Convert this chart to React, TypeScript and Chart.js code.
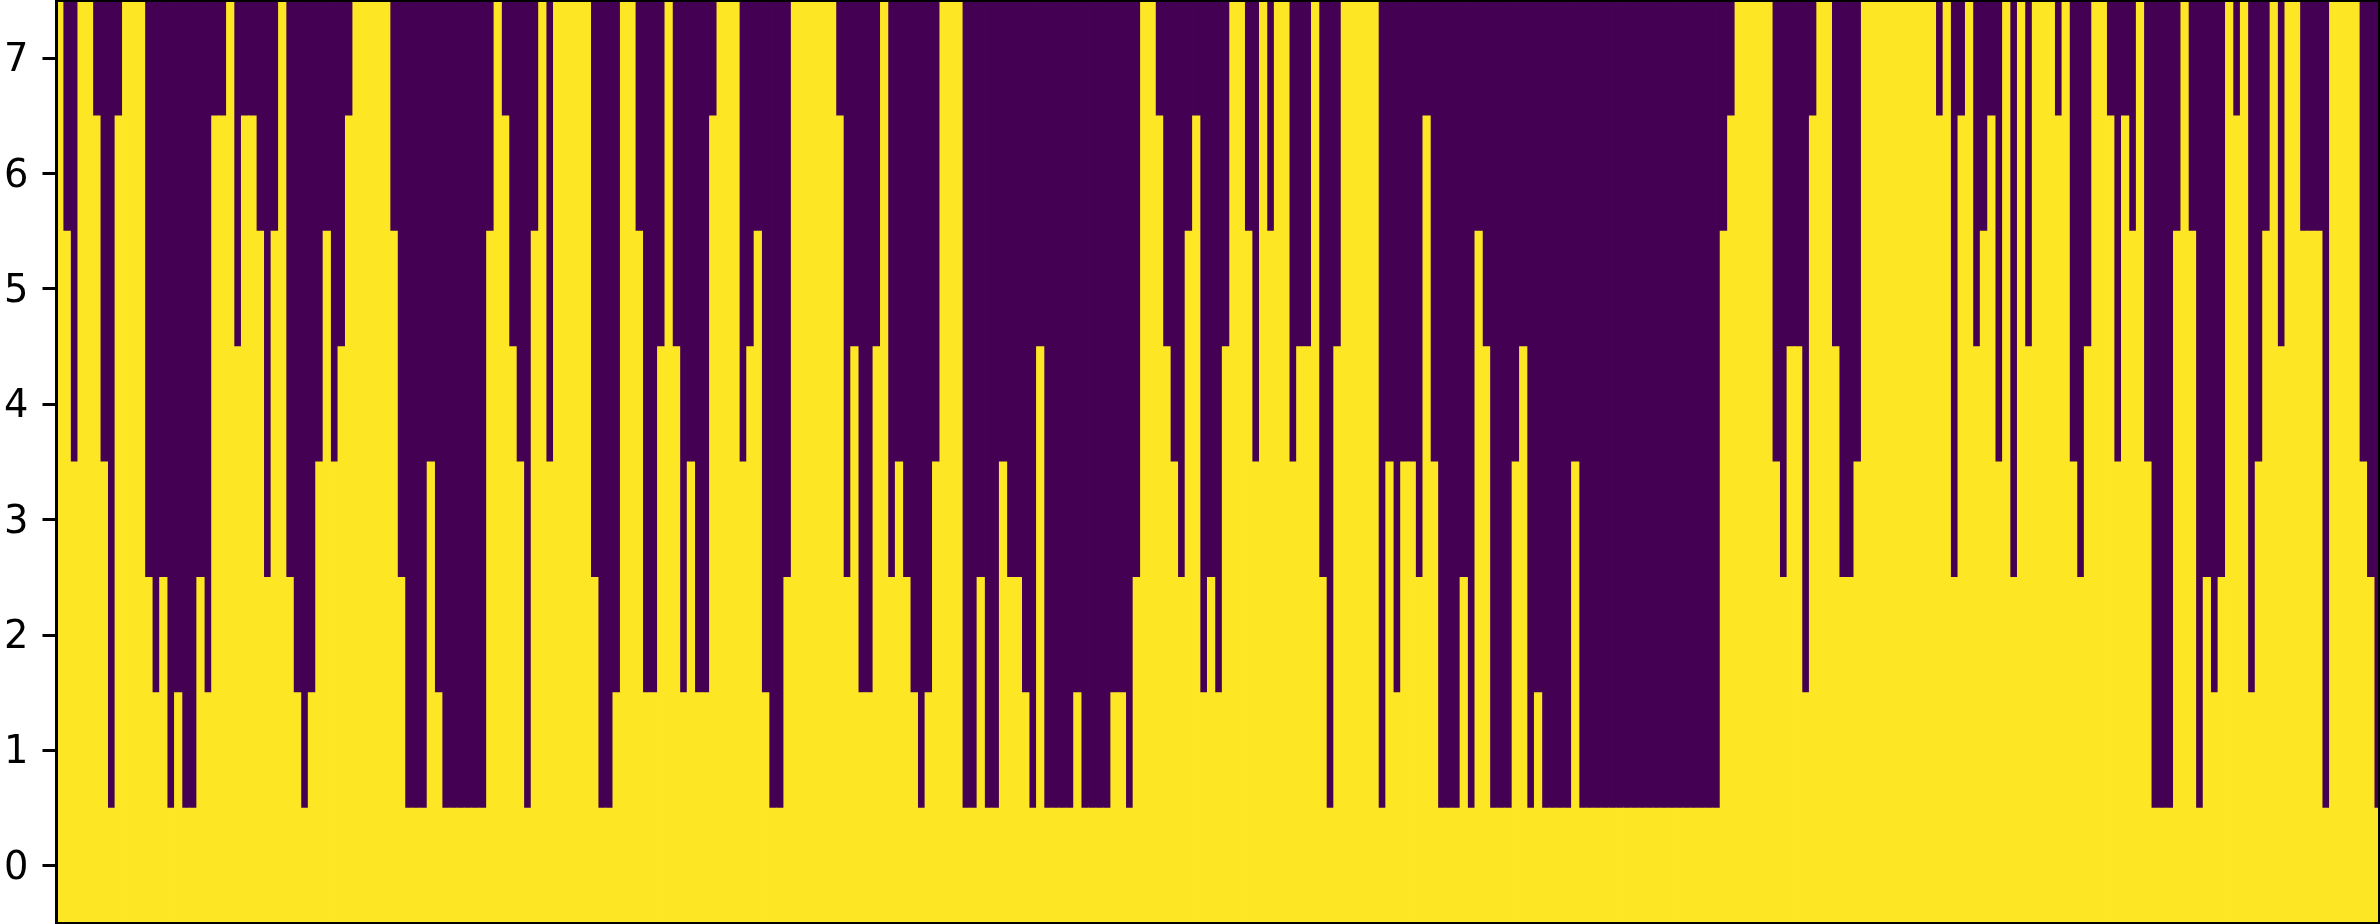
import { useEffect, useRef } from "react";
import { Chart, registerables } from "chart.js";

Chart.register(...registerables);

const rowTicks = [0, 1, 2, 3, 4, 5, 6, 7];

// how many rows are yellow in each column, counted from row 0 upwards
const yellowRows = [
  8, 6, 4, 8, 8, 7, 4, 1, 7, 8,
  8, 8, 3, 2, 3, 1, 2, 1, 1, 3,
  2, 7, 7, 8, 5, 7, 7, 6, 3, 6,
  8, 3, 2, 1, 2, 4, 6, 4, 5, 7,
  8, 8, 8, 8, 8, 6, 3, 1, 1, 1,
  4, 2, 1, 1, 1, 1, 1, 1, 6, 8,
  7, 5, 4, 1, 6, 8, 4, 8, 8, 8,
  8, 8, 3, 1, 1, 2, 8, 8, 6, 2,
  2, 5, 8, 5, 2, 4, 2, 2, 7, 8,
  8, 8, 4, 5, 6, 2, 1, 1, 3, 8,
  8, 8, 8, 8, 8, 7, 3, 5, 2, 2,
  5, 8, 3, 4, 3, 2, 1, 2, 4, 8,
  8, 8, 1, 1, 3, 1, 1, 4, 3, 3,
  2, 1, 5, 1, 1, 1, 1, 2, 1, 1,
  1, 1, 2, 2, 1, 3, 8, 8, 7, 5,
  4, 3, 6, 7, 2, 3, 2, 5, 8, 8,
  6, 4, 8, 6, 8, 8, 4, 5, 5, 8,
  3, 1, 5, 8, 8, 8, 8, 8, 1, 4,
  2, 4, 4, 3, 7, 4, 1, 1, 1, 3,
  1, 6, 5, 1, 1, 1, 4, 5, 1, 2,
  1, 1, 1, 1, 4, 1, 1, 1, 1, 1,
  1, 1, 1, 1, 1, 1, 1, 1, 1, 1,
  1, 1, 1, 1, 6, 7, 8, 8, 8, 8,
  8, 4, 3, 5, 5, 2, 7, 8, 8, 5,
  3, 3, 4, 8, 8, 8, 8, 8, 8, 8,
  8, 8, 8, 7, 8, 3, 7, 8, 5, 6,
  7, 4, 8, 3, 8, 5, 8, 8, 8, 7,
  8, 4, 3, 5, 8, 8, 7, 4, 7, 6,
  8, 4, 1, 1, 1, 6, 8, 6, 1, 3,
  2, 3, 8, 7, 8, 2, 4, 6, 8, 5,
  8, 8, 6, 6, 6, 1, 8, 8, 8, 8,
  4, 3, 1,
];

const YELLOW = "#fde725";
const PURPLE = "#440154";

// draws the box round the plot
const spines = {
  id: "spines",
  afterDraw(chart: Chart) {
    const { ctx, chartArea } = chart;
    ctx.save();
    ctx.strokeStyle = "#000000";
    ctx.lineWidth = 3;
    ctx.strokeRect(
      chartArea.left,
      chartArea.top,
      chartArea.right - chartArea.left,
      chartArea.bottom - chartArea.top
    );
    ctx.restore();
  },
};

export default function App() {
  const chartRef = useRef<HTMLCanvasElement>(null);

  useEffect(() => {
    if (!chartRef.current) return;
    document.body.style.margin = "0";

    const chart = new Chart(chartRef.current, {
      type: "bar",
      data: {
        datasets: [
          {
            label: "yellow",
            data: yellowRows.map((n, i) => ({ x: i, y: [-0.5, n - 0.5] })),
            backgroundColor: YELLOW,
          },
          {
            label: "purple",
            data: yellowRows.map((n, i) => ({ x: i, y: [n - 0.5, 7.5] })),
            backgroundColor: PURPLE,
          },
        ],
      } as any,
      options: {
        responsive: false,
        animation: false,
        devicePixelRatio: 1,
        layout: { padding: { top: 0.5, bottom: 0.5, right: 0.5, left: 0 } },
        datasets: {
          bar: {
            grouped: false,
            barPercentage: 1,
            categoryPercentage: 1,
            inflateAmount: 0.4,
          },
        },
        plugins: {
          legend: { display: false },
          tooltip: { enabled: false },
        },
        scales: {
          x: {
            type: "linear",
            display: false,
            offset: false,
            min: -0.375,
            max: 312.23,
          },
          y: {
            min: -0.5,
            max: 7.5,
            afterBuildTicks: (axis) => {
              axis.ticks = rowTicks.map((value) => ({ value }));
            },
            afterFit: (axis) => {
              axis.width = 56.5;
              // labels must not push the plot away from the canvas edge
              axis.paddingTop = 0;
              axis.paddingBottom = 0;
            },
            grid: {
              drawOnChartArea: false,
              drawTicks: true,
              tickLength: 14,
              tickWidth: 3,
              tickColor: "#000000",
            },
            border: { display: false },
            ticks: {
              color: "#000000",
              padding: 14,
              labelOffset: 3,
              autoSkip: false,
              font: { family: "'DejaVu Sans'", size: 38.4 },
              callback: (value) => String(value),
            },
          },
        },
      },
      plugins: [spines],
    });

    return () => {
      chart.destroy();
    };
  }, []);

  return (
    <canvas
      ref={chartRef}
      width={2380}
      height={924}
      style={{ display: "block", width: 2380, height: 924 }}
    ></canvas>
  );
}
